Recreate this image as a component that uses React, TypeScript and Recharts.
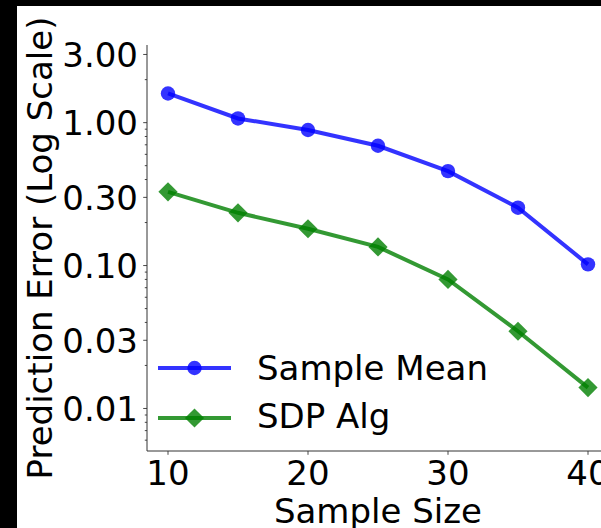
import React from 'react';
import { LineChart, Line, XAxis, YAxis, Legend } from 'recharts';

const sampleSizes = [10, 15, 20, 25, 30, 35, 40];
const sampleMean = [1.6, 1.07, 0.888, 0.689, 0.458, 0.254, 0.102];
const sdpAlg = [0.328, 0.234, 0.181, 0.135, 0.08, 0.0347, 0.014];

const xTicks = [10, 20, 30, 40];
const yMajorTicks = [0.01, 0.03, 0.1, 0.3, 1, 3];
const yMajorLabels = ['0.01', '0.03', '0.10', '0.30', '1.00', '3.00'];
const yMinorTicks = [
  0.006, 0.007, 0.008, 0.009, 0.02, 0.04, 0.05, 0.06, 0.07, 0.08, 0.09,
  0.2, 0.4, 0.5, 0.6, 0.7, 0.8, 0.9, 2,
];
const seriesNames = ['Sample Mean', 'SDP Alg'];

const xDomain = [8.5, 41.5];
const yDomain = [0.00504, 3.494];

const data = sampleSizes.map((s, i) => ({ size: s, mean: sampleMean[i], sdp: sdpAlg[i] }));
const allYTicks = [...yMajorTicks, ...yMinorTicks].sort((a, b) => a - b);

const FONT = 'DejaVu Sans, sans-serif';
const FS = 34;
const BLUE = '#0000ff';
const GREEN = '#008000';
const ALPHA = 0.8;
const SPINE = '#333';

const CircleDot = (props: any) => {
  const { cx, cy } = props;
  if (cx == null || cy == null) return null;
  return <circle cx={cx} cy={cy} r={7.2} fill={BLUE} fillOpacity={ALPHA} stroke="none" />;
};

const DiamondDot = (props: any) => {
  const { cx, cy } = props;
  if (cx == null || cy == null) return null;
  const h = 9.6;
  return (
    <polygon
      points={`${cx},${cy - h} ${cx + h},${cy} ${cx},${cy + h} ${cx - h},${cy}`}
      fill={GREEN}
      fillOpacity={ALPHA}
      stroke="none"
    />
  );
};

const YTick = (props: any) => {
  const { x, y, payload } = props;
  const v = payload.value;
  const idx = yMajorTicks.findIndex((t) => Math.abs(t - v) / t < 1e-6);
  const major = idx >= 0;
  return (
    <g>
      <line x1={x - (major ? 3.8 : 2.2)} x2={x} y1={y} y2={y} stroke={SPINE} strokeWidth={0.9} />
      {major && (
        <text x={x - 9} y={y} dy="0.36em" textAnchor="end" fontFamily={FONT} fontSize={FS} fill="#000">
          {yMajorLabels[idx]}
        </text>
      )}
    </g>
  );
};

const XTick = (props: any) => {
  const { x, y, payload } = props;
  return (
    <g>
      <line x1={x} x2={x} y1={y} y2={y + 3.8} stroke={SPINE} strokeWidth={0.9} />
      <text x={x} y={y + 34} textAnchor="middle" fontFamily={FONT} fontSize={FS} fill="#000">
        {payload.value}
      </text>
    </g>
  );
};

const LegendContent = () => (
  <svg width={360} height={110} style={{ display: 'block' }}>
    <line x1={8} x2={81} y1={28} y2={28} stroke={BLUE} strokeOpacity={ALPHA} strokeWidth={4} />
    <circle cx={44.5} cy={28} r={7.2} fill={BLUE} fillOpacity={ALPHA} />
    <text x={107} y={40} fontFamily={FONT} fontSize={FS} fill="#000">{seriesNames[0]}</text>
    <line x1={8} x2={81} y1={78} y2={78} stroke={GREEN} strokeOpacity={ALPHA} strokeWidth={4} />
    <polygon points={`44.5,68.4 54.1,78 44.5,87.6 34.9,78`} fill={GREEN} fillOpacity={ALPHA} />
    <text x={107} y={88} fontFamily={FONT} fontSize={FS} fill="#000">{seriesNames[1]}</text>
  </svg>
);

export default function App() {
  return (
    <div style={{ position: 'fixed', left: 0, top: 0, width: 601, height: 528, overflow: 'hidden', background: '#000' }}>
      <div style={{ position: 'absolute', left: 17, top: 6, width: 584, height: 522, background: '#fff' }} />
      <div style={{ position: 'absolute', left: 0, top: 0 }}>
        <LineChart width={620} height={528} data={data} margin={{ top: 45, right: 11, bottom: 0, left: 0 }}>
          <XAxis
            xAxisId="top"
            orientation="top"
            type="number"
            dataKey="size"
            domain={xDomain}
            height={0}
            tick={false}
            tickLine={false}
            axisLine={{ stroke: SPINE, strokeWidth: 1 }}
          />
          <XAxis
            type="number"
            dataKey="size"
            domain={xDomain}
            ticks={xTicks}
            allowDataOverflow
            height={77}
            tickSize={0}
            tickMargin={0}
            tickLine={false}
            tick={<XTick />}
            axisLine={{ stroke: SPINE, strokeWidth: 1 }}
            label={{
              content: (p: any) => {
                const vb = p.viewBox;
                return (
                  <text x={vb.x + vb.width / 2} y={523} textAnchor="middle" fontFamily={FONT} fontSize={FS} fill="#000">
                    Sample Size
                  </text>
                );
              },
            }}
          />
          <YAxis
            scale="log"
            type="number"
            domain={yDomain}
            allowDataOverflow
            ticks={allYTicks}
            interval={0}
            width={147}
            tickSize={0}
            tickMargin={0}
            tickLine={false}
            tick={<YTick />}
            axisLine={{ stroke: SPINE, strokeWidth: 1 }}
            label={{
              content: (p: any) => {
                const vb = p.viewBox;
                const cy = vb.y + vb.height / 2;
                return (
                  <text
                    x={52}
                    y={cy}
                    textAnchor="middle"
                    transform={`rotate(-90, 52, ${cy})`}
                    fontFamily={FONT}
                    fontSize={FS}
                    fill="#000"
                  >
                    Prediction Error (Log Scale)
                  </text>
                );
              },
            }}
          />
          <Legend
            layout="horizontal"
            verticalAlign="middle"
            align="center"
            content={<LegendContent />}
            wrapperStyle={{ position: 'absolute', left: 150, top: 340, width: 360, height: 110 }}
          />
          <Line
            type="linear"
            dataKey="mean"
            name={seriesNames[0]}
            stroke={BLUE}
            strokeOpacity={ALPHA}
            strokeWidth={4}
            dot={<CircleDot />}
            activeDot={false}
            isAnimationActive={false}
          />
          <Line
            type="linear"
            dataKey="sdp"
            name={seriesNames[1]}
            stroke={GREEN}
            strokeOpacity={ALPHA}
            strokeWidth={4}
            dot={<DiamondDot />}
            activeDot={false}
            isAnimationActive={false}
          />
        </LineChart>
      </div>
    </div>
  );
}
